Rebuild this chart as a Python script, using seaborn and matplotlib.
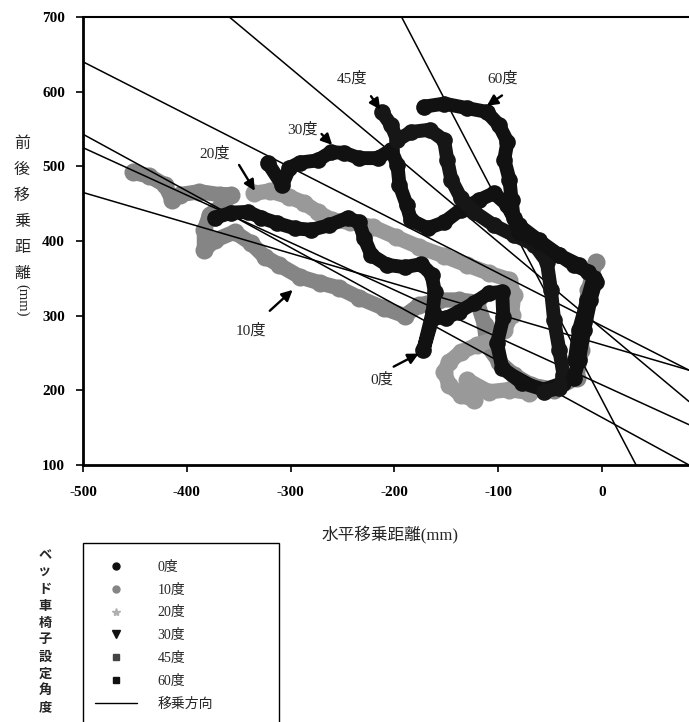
import matplotlib
matplotlib.use("Agg")
import matplotlib.pyplot as plt
import seaborn as sns
import pandas as pd
from matplotlib.lines import Line2D
from matplotlib.patches import Rectangle

# 移乗軌跡 (mm): 水平 x, 前後 y
x_0 = [-373, -357, -341, -328, -313, -296, -280, -263, -245, -234, -229, -222, -207, -190, -174, -164,
       -161, -163, -172, -163, -150, -138, -123, -109, -96, -95, -101, -96, -77, -56, -37]
y_0 = [431, 438, 439, 431, 424, 417, 415, 421, 431, 425, 404, 381, 368, 365, 369, 355,
       332, 305, 254, 297, 297, 305, 317, 330, 332, 298, 263, 230, 210, 201, 210]

x_10 = [-452, -436, -421, -414, -407, -388, -368, -357, -366, -378, -383, -383, -373, -354, -338, -325,
        -311, -291, -272, -253, -234, -210, -190, -176, -157, -138, -120, -113, -111, -99, -85, -68,
        -46, -24, -20, -17, -13, -6]
y_10 = [492, 487, 475, 455, 462, 466, 462, 462, 448, 435, 415, 388, 401, 412, 397, 379,
        368, 352, 344, 337, 324, 310, 300, 314, 321, 321, 318, 288, 261, 238, 221, 207,
        201, 217, 254, 294, 334, 372]

x_20 = [-335, -320, -301, -287, -274, -260, -243, -221, -198, -176, -152, -130, -109, -89, -85,
        -87, -94, -104, -120, -136, -147, -152, -147, -136, -123, -120, -130, -109, -89, -70]
y_20 = [464, 467, 459, 451, 439, 428, 425, 419, 405, 392, 380, 368, 357, 348, 328,
        301, 281, 268, 261, 251, 238, 225, 207, 194, 187, 201, 214, 198, 201, 197]

x_30 = [-322, -308, -301, -291, -274, -261, -248, -234, -216, -203, -197, -195, -188, -184,
        -168, -152, -136, -118, -104, -91, -80, -61, -41, -22, -8, -14, -22, -26]
y_30 = [505, 475, 498, 505, 508, 519, 518, 511, 511, 522, 502, 475, 448, 428,
        417, 425, 442, 455, 464, 448, 421, 401, 381, 368, 351, 321, 281, 241]

x_45 = [-212, -203, -197, -184, -166, -152, -149, -145, -136, -123, -104, -85, -65, -53,
        -49, -46, -41, -37, -41, -56]
y_45 = [573, 555, 535, 546, 549, 535, 509, 482, 458, 439, 421, 408, 395, 372,
        334, 294, 254, 221, 203, 198]

x_60 = [-171, -152, -130, -111, -99, -91, -94, -89, -87, -85, -80, -61, -41, -27,
        -13, -6, -11, -17, -22, -27]
y_60 = [580, 584, 578, 573, 555, 533, 509, 482, 455, 431, 412, 399, 381, 368,
        359, 345, 321, 281, 241, 217]

# 移乗方向 (直線の両端)
dir_x0 = [-500, -500, -500, -500, -359, -193]
dir_y0 = [543, 525, 465, 640, 700, 700]
dir_x1 = [84, 84, 84, 84, 84, 33]
dir_y1 = [100, 154, 227, 227, 185, 100]

angle_labels = ["0度", "10度", "20度", "30度", "45度", "60度"]
x_ticks = [-500, -400, -300, -200, -100, 0]
y_ticks = [100, 200, 300, 400, 500, 600, 700]

# 矢印付きラベル: 文字位置, 矢印の元, 矢印の先
lab_pos = {"0度": (-212, 214), "10度": (-338, 280), "20度": (-373, 517),
           "30度": (-289, 549), "45度": (-241, 618), "60度": (-96, 618)}
arrow_from = {"0度": (-203, 230), "10度": (-322, 304), "20度": (-351, 505),
              "30度": (-272, 546), "45度": (-224, 597), "60度": (-94, 597)}
arrow_to = {"0度": (-174, 251), "10度": (-296, 337), "20度": (-333, 464),
            "30度": (-258, 526), "45度": (-212, 573), "60度": (-113, 579)}

sns.set_theme(style="ticks")
cjk = ["Liberation Serif", "Noto Sans CJK JP", "DejaVu Sans"]
plt.rcParams["font.family"] = cjk
plt.rcParams["axes.unicode_minus"] = False

fig = plt.figure(figsize=(6.89, 7.22), dpi=100)
ax = fig.add_axes([83 / 689, 1 - 465 / 722, 606 / 689, 448 / 722])

tracks = {
    "0度": (x_0, y_0, "#111111", 10, 3),
    "10度": (x_10, y_10, "#858585", 11, 1),
    "20度": (x_20, y_20, "#999999", 11, 1),
    "30度": (x_30, y_30, "#111111", 10, 3),
    "45度": (x_45, y_45, "#161616", 10, 3),
    "60度": (x_60, y_60, "#111111", 10, 3),
}
for name, (xs, ys, col, lw, z) in tracks.items():
    df = pd.DataFrame({"x": xs, "y": ys})
    sns.lineplot(data=df, x="x", y="y", sort=False, estimator=None, color=col, lw=lw,
                 marker="o", markersize=lw + 2, markeredgewidth=0, ax=ax, zorder=z,
                 solid_capstyle="round", solid_joinstyle="round")

for a, b, c, d in zip(dir_x0, dir_y0, dir_x1, dir_y1):
    ax.plot([a, c], [b, d], color="black", lw=1.1, zorder=2)

for name in angle_labels:
    ax.text(*lab_pos[name], name, fontsize=11, ha="center", va="center", zorder=5)
    ax.annotate("", xy=arrow_to[name], xytext=arrow_from[name], zorder=5,
                arrowprops=dict(arrowstyle="-|>", color="black", lw=1.7, mutation_scale=16))

ax.set_xlim(-500, 84)
ax.set_ylim(100, 700)
ax.set_xticks(x_ticks)
ax.set_yticks(y_ticks)
ax.set_xticklabels([str(v) for v in x_ticks], fontsize=11, fontweight="bold")
ax.set_yticklabels([str(v) for v in y_ticks], fontsize=11, fontweight="bold")
ax.tick_params(axis="x", direction="out", length=5, width=1.2, pad=10, colors="black")
ax.tick_params(axis="y", direction="out", length=5, width=1.2, pad=8, colors="black")
ax.spines["right"].set_visible(False)
ax.spines["left"].set_linewidth(2)
ax.spines["bottom"].set_linewidth(2)
ax.spines["top"].set_linewidth(1.5)
for s in ax.spines.values():
    s.set_color("black")
ax.set_xlabel("")
ax.set_ylabel("")

fig.text(390 / 689, 1 - 535 / 722, "水平移乗距離(mm)", fontsize=12, ha="center", va="center")
fig.text(22 / 689, 1 - 209 / 722, "前\n後\n移\n乗\n距\n離", fontsize=11.5, ha="center", va="center",
         linespacing=1.83)
fig.text(22 / 689, 1 - 300 / 722, "(mm)", fontsize=10.5, ha="center", va="center", rotation=270)

# 凡例
fig.patches.append(Rectangle((83 / 689, -0.05), 196 / 689, 0.05 + 179 / 722, transform=fig.transFigure,
                             fill=False, ec="black", lw=1))
fig.text(45 / 689, 1 - 631 / 722, "\n".join("ベッド車椅子設定角度"), fontsize=9.5, fontweight="bold",
         ha="center", va="center", linespacing=1.27, family=["Noto Sans CJK JP"])
handles = [
    Line2D([], [], ls="none", marker="o", color="#111111", markersize=5),
    Line2D([], [], ls="none", marker="o", color="#858585", markersize=5),
    Line2D([], [], ls="none", marker="*", color="#b0b0b0", markersize=6),
    Line2D([], [], ls="none", marker="v", color="#111111", markersize=6),
    Line2D([], [], ls="none", marker="s", color="#444444", markersize=5),
    Line2D([], [], ls="none", marker="s", color="#111111", markersize=5),
    Line2D([], [], color="black", lw=1),
]
fig.legend(handles, angle_labels + ["移乗方向"], loc="upper left", bbox_to_anchor=(95 / 689, 1 - 561 / 722),
           frameon=False, handlelength=3.0, handletextpad=1.5, labelspacing=0.7, borderpad=0,
           borderaxespad=0, prop={"family": cjk, "size": 10})

fig.savefig("out.png", dpi=100)
